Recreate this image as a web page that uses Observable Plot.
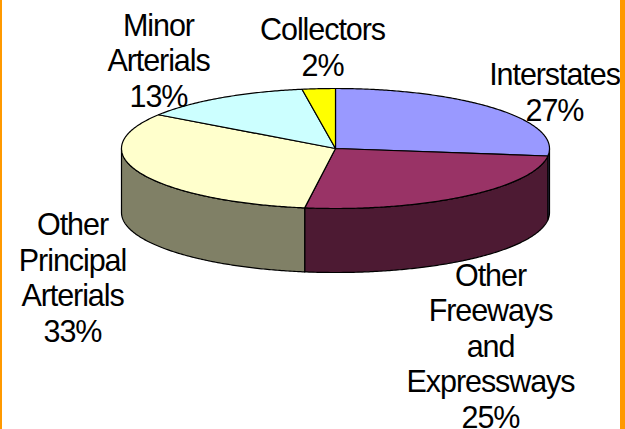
<!DOCTYPE html>
<html>
<head>
<meta charset="utf-8">
<style>
html,body{margin:0;padding:0;background:#fff;}
#wrap{position:relative;width:625px;height:429px;overflow:hidden;background:#fff;}
#wrap svg{position:absolute;left:0;top:0;}
.edge{position:absolute;top:0;height:429px;background:#FF9900;}
</style>
<script src="https://cdn.jsdelivr.net/npm/d3@7"></script>
<script src="https://cdn.jsdelivr.net/npm/@observablehq/plot@0.6"></script>
</head>
<body>
<div id="wrap"></div>
<script>
const categories = ["Interstates", "Other Freeways and Expressways", "Other Principal Arterials", "Minor Arterials", "Collectors"];
const shares = [27.0, 25.3, 32.2, 13.0, 2.5];
const shareLabels = ["27%", "25%", "33%", "13%", "2%"];
const labelLines = ["Interstates", "Other\nFreeways\nand\nExpressways", "Other\nPrincipal\nArterials", "Minor\nArterials", "Collectors"];
const topColors = ["#9999FF", "#993366", "#FFFFCC", "#CCFFFF", "#FFFF00"];
const sideColors = ["#4D4D80", "#4D1A33", "#808066", "#668080", "#808000"];

// layout of the tilted pie, in the chart's pixel space
const W = 625, H = 429;
const cx = 335, cy = 148, rx = 214, ry = 60, depth = 64;
const labelX = [554, 490, 72, 158, 322];
const labelY = [120, 427, 341, 106, 75];

const total = d3.sum(shares);
const cum = d3.cumsum(shares);
const angle = f => f * 2 * Math.PI;
const px = a => cx + rx * Math.sin(a);
const py = a => cy - ry * Math.cos(a);
const arc = (a0, a1) => {
  const n = Math.max(2, Math.ceil(Math.abs(a1 - a0) / 0.01));
  return d3.range(n + 1).map(i => a0 + (a1 - a0) * i / n);
};

const topRows = [], sideRows = [];
categories.forEach((name, i) => {
  const a0 = angle((cum[i] - shares[i]) / total), a1 = angle(cum[i] / total);
  const key = "top" + i;
  const pts = [[cx, cy], ...arc(a0, a1).map(a => [px(a), py(a)]), [cx, cy]];
  pts.forEach(([x, y]) => topRows.push({key, x, y, color: topColors[i]}));
  // visible wall: front half of the rim only
  const s0 = Math.max(a0, Math.PI / 2), s1 = Math.min(a1, 3 * Math.PI / 2);
  if (s1 > s0) {
    const k = "side" + i;
    const rim = arc(s0, s1);
    const wall = [...rim.map(a => [px(a), py(a)]), ...rim.slice().reverse().map(a => [px(a), py(a) + depth])];
    wall.push(wall[0]);
    wall.forEach(([x, y]) => sideRows.push({key: k, x, y, color: sideColors[i]}));
  }
});

const labels = categories.map((name, i) => ({
  text: labelLines[i] + "\n" + shareLabels[i],
  x: labelX[i],
  y: labelY[i]
}));

const chart = Plot.plot({
  width: W,
  height: H,
  margin: 0,
  style: {background: "transparent"},
  x: {axis: null, domain: [0, W], range: [0, W]},
  y: {axis: null, domain: [0, H], range: [0, H]},
  color: {type: "identity"},
  marks: [
    Plot.line(sideRows, {x: "x", y: "y", z: "key", fill: "color", stroke: "#000", strokeWidth: 1.2, curve: "linear"}),
    Plot.line(topRows, {x: "x", y: "y", z: "key", fill: "color", stroke: "#000", strokeWidth: 1.2, curve: "linear"}),
    Plot.text(labels, {
      x: "x", y: "y", text: "text",
      lineAnchor: "bottom", lineHeight: 1.163,
      textAnchor: "middle",
      fontFamily: "Liberation Sans",
      fontSize: 30.5,
      fill: "#000"
    })
  ]
});
chart.querySelectorAll("text").forEach(t => { t.style.letterSpacing = "-0.035em"; });
const wrap = document.getElementById("wrap");
wrap.appendChild(chart);
[[0, 2], [620, 5]].forEach(([l, w]) => {
  const d = document.createElement("div");
  d.className = "edge";
  d.style.left = l + "px";
  d.style.width = w + "px";
  wrap.appendChild(d);
});
</script>
</body>
</html>
